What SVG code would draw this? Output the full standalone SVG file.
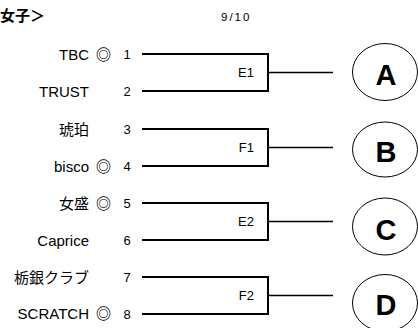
<svg xmlns="http://www.w3.org/2000/svg" width="418" height="328" viewBox="0 0 418 328">
<style>
text{font-family:"Liberation Sans","Noto Sans CJK JP",sans-serif;fill:#000}
.nm{font-size:15px;text-anchor:end}
.mk{font-family:"Noto Sans CJK JP",sans-serif;font-weight:bold}
.num{font-size:13px;text-anchor:middle}
.lb{font-size:13px;text-anchor:end}
.big{font-size:29px;font-weight:bold;text-anchor:middle}
.br{fill:none;stroke:#000;stroke-width:2}
.cn{stroke:#000;stroke-width:1.5}
.ov{fill:#fff;stroke:#000;stroke-width:1}
</style>
<rect width="418" height="328" fill="#fff"/>
<text id="title" x="0" y="21" style="font-size:15px;font-weight:bold">女子＞</text>
<text id="date" x="221" y="21" style="font-size:11.5px;letter-spacing:2px">9/10</text>

<g id="teams">
<g id="t1"><text class="nm" x="89" y="60">TBC<tspan class="mk" x="111"> ◎</tspan></text><text class="num" x="127" y="59">1</text></g>
<g id="t2"><text class="nm" x="89" y="97">TRUST</text><text class="num" x="127" y="96">2</text></g>
<g id="t3"><text class="nm" x="89" y="135">琥珀</text><text class="num" x="127" y="134">3</text></g>
<g id="t4"><text class="nm" x="89" y="172">bisco<tspan class="mk" x="111"> ◎</tspan></text><text class="num" x="127" y="171">4</text></g>
<g id="t5"><text class="nm" x="89" y="209">女盛<tspan class="mk" x="111"> ◎</tspan></text><text class="num" x="127" y="208">5</text></g>
<g id="t6"><text class="nm" x="89" y="246">Caprice</text><text class="num" x="127" y="245">6</text></g>
<g id="t7"><text class="nm" x="89" y="283">栃銀クラブ</text><text class="num" x="127" y="282">7</text></g>
<g id="t8"><text class="nm" x="89" y="319">SCRATCH<tspan class="mk" x="111"> ◎</tspan></text><text class="num" x="127" y="319">8</text></g>
</g>

<g id="connectors">
<path class="br" d="M142,54H268V91H142"/>
<path class="br" d="M142,129H268V166H142"/>
<path class="br" d="M142,203H268V240H142"/>
<path class="br" d="M142,277H268V314H142"/>
<line class="cn" x1="268" y1="72.5" x2="333" y2="72.5"/>
<line class="cn" x1="268" y1="147.5" x2="333" y2="147.5"/>
<line class="cn" x1="268" y1="221.5" x2="333" y2="221.5"/>
<line class="cn" x1="268" y1="295.5" x2="333" y2="295.5"/>
</g>

<g id="m-E1"><text class="lb" x="254" y="77">E1</text></g>
<g id="m-F1"><text class="lb" x="254" y="152">F1</text></g>
<g id="m-E2"><text class="lb" x="254" y="226">E2</text></g>
<g id="m-F2"><text class="lb" x="254" y="300">F2</text></g>

<g id="A"><ellipse class="ov" cx="385" cy="72" rx="32.5" ry="28.5"/><text class="big" x="386" y="85">A</text></g>
<g id="B"><ellipse class="ov" cx="385" cy="149.5" rx="32.5" ry="27.5"/><text class="big" x="386" y="161.5">B</text></g>
<g id="C"><ellipse class="ov" cx="385" cy="226.5" rx="32.5" ry="28.5"/><text class="big" x="386" y="239.5">C</text></g>
<g id="D"><ellipse class="ov" cx="385" cy="303" rx="32.5" ry="28.5"/><text class="big" x="386" y="314.5">D</text></g>
</svg>
